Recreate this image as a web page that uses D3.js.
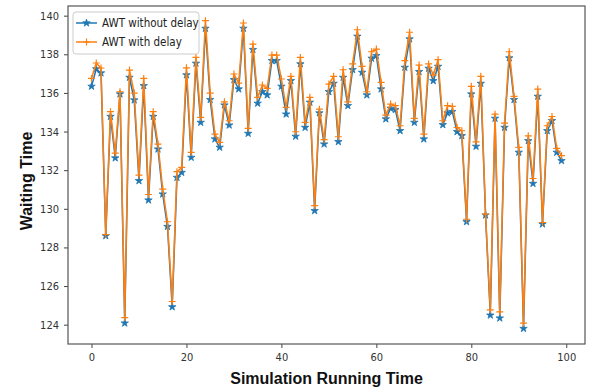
<!DOCTYPE html>
<html>
<head>
<meta charset="utf-8">
<script src="https://cdn.jsdelivr.net/npm/d3@7"></script>
<style>
  body { margin: 0; background: #fff; }
  svg { display: block; }
  .tick text { font-family: "DejaVu Sans Condensed", "DejaVu Sans", sans-serif; font-stretch: condensed; font-size: 11px; fill: #333; }
  .lbl { font-family: "Liberation Sans", Arial, sans-serif; font-weight: bold; font-size: 16px; fill: #111; }
  .leg { font-family: "DejaVu Sans Condensed", "DejaVu Sans", sans-serif; font-stretch: condensed; font-size: 11.5px; fill: #222; }
</style>
</head>
<body>
<svg id="chart" width="590" height="390"></svg>
<script>
// AWT without delay (blue) and AWT with delay (orange), runs 0..99
var awtNoDelay = [
  136.34, 137.24, 137.03, 128.60, 134.78, 132.63, 135.94, 124.08, 136.80, 135.63,
  131.45, 136.37, 130.45, 134.78, 133.09, 130.76, 129.08, 124.92, 131.62, 131.88,
  136.93, 132.66, 137.53, 134.47, 139.34, 135.65, 133.61, 133.18, 135.37, 134.33,
  136.68, 136.20, 139.34, 133.90, 138.24, 135.46, 136.06, 135.89, 137.67, 137.67,
  136.34, 134.90, 136.63, 133.75, 137.50, 134.21, 135.51, 129.90, 134.96, 133.35,
  136.06, 136.49, 133.47, 136.80, 135.34, 137.20, 138.93, 137.06, 135.89, 137.79,
  137.93, 136.20, 134.65, 135.20, 135.13, 134.04, 137.32, 138.79, 134.47, 137.10,
  133.61, 137.27, 136.63, 137.37, 134.35, 134.96, 135.03, 133.99, 133.78, 129.33,
  135.94, 133.23, 136.49, 129.67, 124.49, 134.68, 124.34, 134.21, 137.81, 135.65,
  132.92, 123.80, 133.52, 131.31, 135.82, 129.21, 134.04, 134.56, 132.92, 132.49
];
var awtWithDelay = [
  136.75, 137.55, 137.29, 128.67, 135.03, 132.88, 136.06, 124.37, 137.18, 135.99,
  131.74, 136.75, 130.74, 135.03, 133.35, 131.02, 129.33, 125.20, 131.92, 132.14,
  137.30, 132.92, 137.84, 134.73, 139.74, 135.99, 133.87, 133.44, 135.54, 134.56,
  136.98, 136.51, 139.62, 134.16, 138.53, 135.77, 136.41, 136.23, 137.96, 137.96,
  136.72, 135.25, 136.86, 133.99, 137.84, 134.47, 135.77, 130.16, 135.16, 133.58,
  136.46, 136.86, 133.73, 137.20, 135.54, 137.50, 139.27, 137.37, 136.06, 138.13,
  138.27, 136.55, 134.85, 135.42, 135.34, 134.30, 137.67, 139.14, 134.68, 137.44,
  133.87, 137.50, 136.93, 137.72, 134.56, 135.34, 135.30, 134.21, 134.04, 129.46,
  136.34, 133.47, 136.86, 129.72, 124.77, 134.90, 124.66, 134.44, 138.13, 135.82,
  133.18, 124.08, 133.78, 131.57, 136.20, 129.29, 134.30, 134.78, 133.13, 132.75
];
var xTicks = [0, 20, 40, 60, 80, 100];
var yTicks = [124, 126, 128, 130, 132, 134, 136, 138, 140];
var seriesNames = ['AWT without delay', 'AWT with delay'];

(function(){
  var blue = '#1f77b4', orange = '#ff7f0e';
  var svg = d3.select('#chart');
  var left = 68, right = 585, top = 6, bottom = 344;

  var x = d3.scaleLinear().domain([-4.95, 103.95]).range([left, right]);
  var y = d3.scaleLinear().domain([123.0, 140.5]).range([bottom, top]);

  // axes
  svg.append('g')
    .attr('transform', 'translate(0,' + bottom + ')')
    .call(d3.axisBottom(x).tickValues(xTicks).tickSize(4).tickPadding(5).tickFormat(d3.format('d')))
    .call(function(g){ g.select('.domain').remove(); g.selectAll('line').attr('stroke', '#444'); });
  svg.append('g')
    .attr('transform', 'translate(' + left + ',0)')
    .call(d3.axisLeft(y).tickValues(yTicks).tickSize(4).tickPadding(5).tickFormat(d3.format('d')))
    .call(function(g){ g.select('.domain').remove(); g.selectAll('line').attr('stroke', '#444'); });

  svg.append('rect')
    .attr('x', left).attr('y', top)
    .attr('width', right - left).attr('height', bottom - top)
    .attr('fill', 'none').attr('stroke', '#555').attr('stroke-width', 1.2);

  var line = d3.line().x(function(d, i){ return x(i); }).y(function(d){ return y(d); });
  var star = d3.symbol().type(d3.symbolStar).size(17);
  var plus = 'M-3.5,0H3.5M0,-3.5V3.5';

  function drawSeries(data, color, marker) {
    var g = svg.append('g');
    g.append('path').datum(data)
      .attr('d', line).attr('fill', 'none')
      .attr('stroke', color).attr('stroke-width', 1.5).attr('stroke-linejoin', 'round');
    g.selectAll('.m').data(data).enter().append('path')
      .attr('transform', function(d, i){ return 'translate(' + x(i) + ',' + y(d) + ')'; })
      .attr('d', marker === 'star' ? star() : plus)
      .attr('fill', marker === 'star' ? color : 'none')
      .attr('stroke', color).attr('stroke-width', marker === 'star' ? 0.8 : 1.2);
  }
  drawSeries(awtNoDelay, blue, 'star');
  drawSeries(awtWithDelay, orange, 'plus');

  // legend
  var leg = svg.append('g').attr('transform', 'translate(73,12)');
  leg.append('rect').attr('width', 126).attr('height', 42).attr('rx', 3)
    .attr('fill', '#fff').attr('fill-opacity', 0.8).attr('stroke', '#ccc');
  [[blue, 'star'], [orange, 'plus']].forEach(function(s, i){
    var yy = 11 + i * 19;
    leg.append('line').attr('x1', 3).attr('x2', 24).attr('y1', yy).attr('y2', yy)
      .attr('stroke', s[0]).attr('stroke-width', 1.5);
    leg.append('path').attr('transform', 'translate(13.5,' + yy + ')')
      .attr('d', s[1] === 'star' ? star() : plus)
      .attr('fill', s[1] === 'star' ? s[0] : 'none').attr('stroke', s[0])
      .attr('stroke-width', s[1] === 'star' ? 0.8 : 1.2);
    leg.append('text').attr('class', 'leg').attr('x', 29).attr('y', yy + 4).text(seriesNames[i]);
  });

  // axis titles
  svg.append('text').attr('class', 'lbl')
    .attr('x', (left + right) / 2).attr('y', 384).attr('text-anchor', 'middle')
    .text('Simulation Running Time');
  svg.append('text').attr('class', 'lbl')
    .attr('transform', 'translate(32,' + ((top + bottom) / 2 + 6) + ') rotate(-90)')
    .attr('text-anchor', 'middle')
    .text('Waiting Time');
})();
</script>
</body>
</html>
